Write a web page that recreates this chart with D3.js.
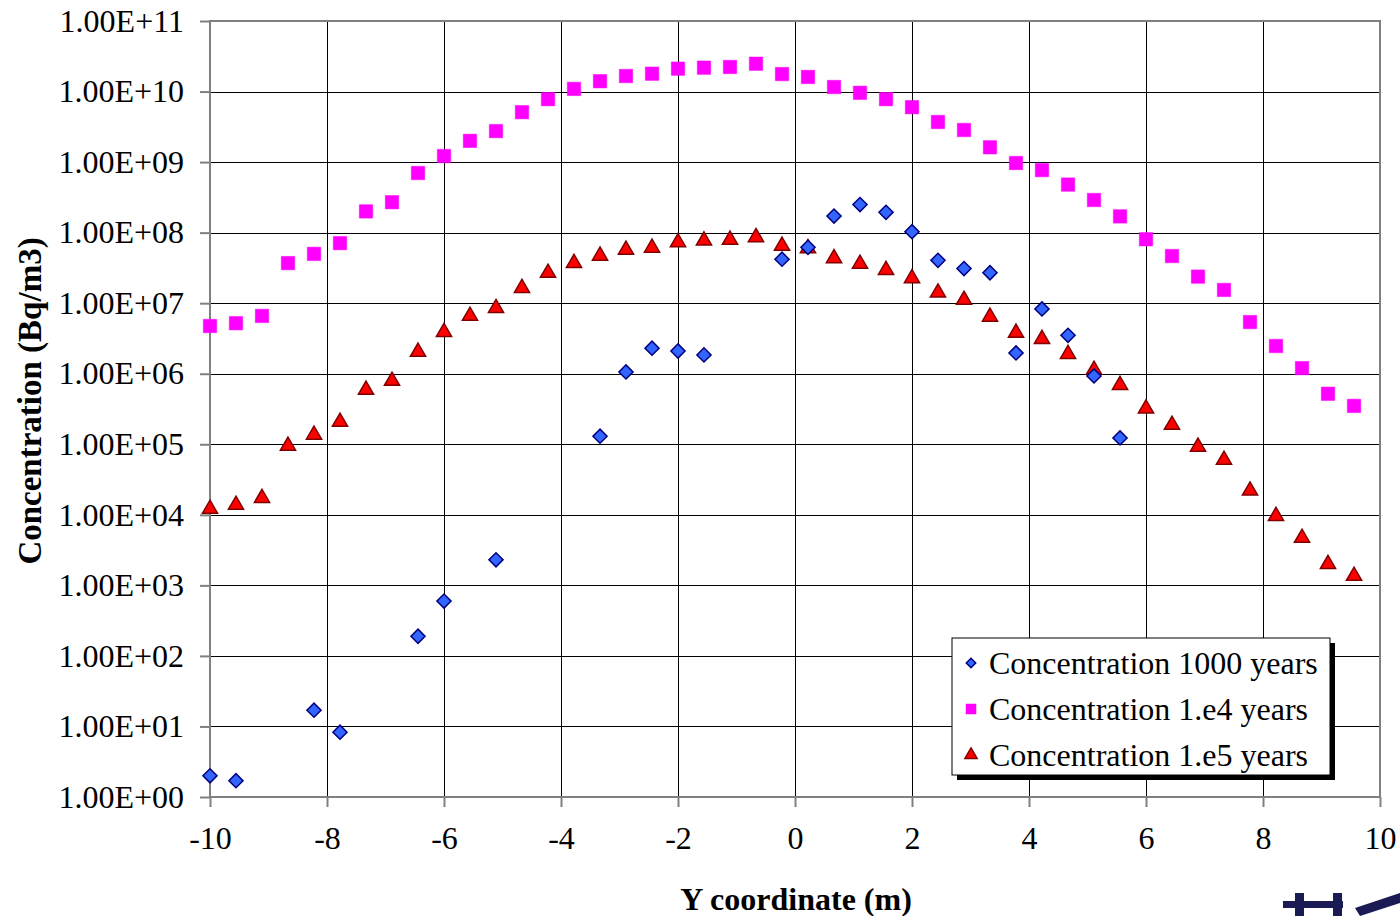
<!DOCTYPE html>
<html>
<head>
<meta charset="utf-8">
<script src="https://cdn.jsdelivr.net/npm/d3@7"></script>
<style>
  html, body { margin: 0; padding: 0; background: #fff; }
  svg { display: block; font-family: "Liberation Serif", "Times New Roman", serif; }
</style>
</head>
<body>
<svg id="chart" width="1400" height="916"></svg>
<script>
// ---------------- DATA ----------------
const yCoord = [-10, -9.556, -9.111, -8.667, -8.222, -7.778, -7.333, -6.889, -6.444, -6,
  -5.556, -5.111, -4.667, -4.222, -3.778, -3.333, -2.889, -2.444, -2, -1.556,
  -1.111, -0.667, -0.222, 0.222, 0.667, 1.111, 1.556, 2, 2.444, 2.889,
  3.333, 3.778, 4.222, 4.667, 5.111, 5.556, 6, 6.444, 6.889, 7.333,
  7.778, 8.222, 8.667, 9.111, 9.556];

const conc1000 = [2.0, 1.7, null, null, 17, 8.3, null, null, 190, 600,
  null, 2.3e3, null, null, null, 1.3e5, 1.06e6, 2.3e6, 2.1e6, 1.85e6,
  null, null, 4.2e7, 6.2e7, 1.72e8, 2.5e8, 1.94e8, 1.03e8, 4.05e7, 3.1e7,
  2.7e7, 1.97e6, 8.3e6, 3.5e6, 9.3e5, 1.23e5, null, null, null, null,
  null, null, null, null, null];

const conc1e4 = [4.75e6, 5.2e6, 6.6e6, 3.7e7, 5.0e7, 7.1e7, 2.0e8, 2.7e8, 7.0e8, 1.22e9,
  2.0e9, 2.75e9, 5.1e9, 7.8e9, 1.09e10, 1.4e10, 1.66e10, 1.79e10, 2.11e10, 2.18e10,
  2.23e10, 2.48e10, 1.77e10, 1.61e10, 1.16e10, 9.6e9, 7.8e9, 6.0e9, 3.7e9, 2.85e9,
  1.62e9, 9.7e8, 7.7e8, 4.8e8, 2.9e8, 1.7e8, 8.05e7, 4.66e7, 2.38e7, 1.54e7,
  5.4e6, 2.47e6, 1.2e6, 5.2e5, 3.5e5];

const conc1e5 = [1.21e4, 1.38e4, 1.73e4, 9.5e4, 1.36e5, 2.07e5, 5.9e5, 7.9e5, 2.04e6, 3.9e6,
  6.6e6, 8.5e6, 1.64e7, 2.68e7, 3.7e7, 4.7e7, 5.7e7, 6.1e7, 7.3e7, 7.7e7,
  7.9e7, 8.6e7, 6.5e7, 6.0e7, 4.33e7, 3.6e7, 2.95e7, 2.25e7, 1.41e7, 1.11e7,
  6.4e6, 3.8e6, 3.1e6, 1.9e6, 1.13e6, 6.9e5, 3.2e5, 1.88e5, 9.2e4, 6.0e4,
  2.2e4, 9.6e3, 4.7e3, 2.0e3, 1.36e3];

const seriesNames = ["Concentration 1000 years", "Concentration 1.e4 years", "Concentration 1.e5 years"];

const xTickValues = [-10, -8, -6, -4, -2, 0, 2, 4, 6, 8, 10];
const xTickLabels = ["-10", "-8", "-6", "-4", "-2", "0", "2", "4", "6", "8", "10"];
const yTickValues = [1e0, 1e1, 1e2, 1e3, 1e4, 1e5, 1e6, 1e7, 1e8, 1e9, 1e10, 1e11];
const yTickLabels = ["1.00E+00", "1.00E+01", "1.00E+02", "1.00E+03", "1.00E+04", "1.00E+05",
  "1.00E+06", "1.00E+07", "1.00E+08", "1.00E+09", "1.00E+10", "1.00E+11"];

const xTitle = "Y coordinate (m)";
const yTitle = "Concentration (Bq/m3)";

// ---------------- LAYOUT ----------------
const svg = d3.select("#chart");
const L = 210, R = 1380, T = 21, B = 797;
const FS = 32;

const x = d3.scaleLinear().domain([-10, 10]).range([L, R]);
const y = d3.scaleLog().domain([1, 1e11]).range([B, T]);

// gridlines
const grid = svg.append("g");
grid.selectAll("line.h").data(yTickValues).join("line")
  .attr("x1", L).attr("x2", R)
  .attr("y1", d => Math.round(y(d)) + 0.5).attr("y2", d => Math.round(y(d)) + 0.5)
  .attr("stroke", "#000").attr("stroke-width", 1);
grid.selectAll("line.v").data(xTickValues).join("line")
  .attr("y1", T).attr("y2", B)
  .attr("x1", d => Math.round(x(d)) + 0.5).attr("x2", d => Math.round(x(d)) + 0.5)
  .attr("stroke", "#000").attr("stroke-width", 1);

// plot border
svg.append("rect").attr("x", L).attr("y", T).attr("width", R - L).attr("height", B - T)
  .attr("fill", "none").attr("stroke", "#808080").attr("stroke-width", 2);

// axes
const yAxis = d3.axisLeft(y).tickValues(yTickValues)
  .tickFormat((d, i) => yTickLabels[i]).tickSize(10).tickPadding(16);
const gy = svg.append("g").attr("transform", `translate(${L},0)`).call(yAxis);
const xAxis = d3.axisBottom(x).tickValues(xTickValues)
  .tickFormat((d, i) => xTickLabels[i]).tickSize(10).tickPadding(19);
const gx = svg.append("g").attr("transform", `translate(0,${B})`).call(xAxis);
[gx, gy].forEach(g => {
  g.select(".domain").remove();
  g.selectAll(".tick line").attr("stroke", "#808080").attr("stroke-width", 2);
  g.selectAll(".tick text").attr("fill", "#000").attr("font-size", FS)
    .attr("font-family", "'Liberation Serif', 'Times New Roman', serif");
});

// axis titles
svg.append("text").attr("x", 796).attr("y", 910).attr("text-anchor", "middle")
  .attr("font-size", FS).attr("font-weight", "bold").text(xTitle);
svg.append("text").attr("transform", "translate(41,401) rotate(-90)")
  .attr("text-anchor", "middle").attr("font-size", 33).attr("font-weight", "bold").text(yTitle);

// marker generators
const diamondPath = d3.symbol(d3.symbolSquare).size(100)();
const squarePath = d3.symbol(d3.symbolSquare).size(180)();
const trianglePath = d3.symbol(d3.symbolTriangle).size(100)();

const styles = [
  { data: conc1000, path: diamondPath, rot: 45, fill: "#3366FF", stroke: "#000080", sw: 1.5 },
  { data: conc1e4, path: squarePath, rot: 0, fill: "#FF00FF", stroke: "#FF00FF", sw: 0.5 },
  { data: conc1e5, path: trianglePath, rot: 0, fill: "#FF0000", stroke: "#800000", sw: 1.5 }
];

// draw order: 1e4, 1e5, 1000 on top
[1, 2, 0].forEach(si => {
  const s = styles[si];
  const pts = yCoord.map((xv, i) => ({ xv, v: s.data[i] })).filter(d => d.v != null);
  svg.append("g").selectAll("path").data(pts).join("path")
    .attr("d", s.path)
    .attr("transform", d => `translate(${x(d.xv)},${y(d.v)}) rotate(${s.rot})`)
    .attr("fill", s.fill).attr("stroke", s.stroke).attr("stroke-width", s.sw)
    .attr("stroke-linejoin", "miter");
});

// legend
const lg = svg.append("g");
const lx = 952, ly = 638, lw = 378, lh = 137;
lg.append("rect").attr("x", lx + 5).attr("y", ly + 5).attr("width", lw).attr("height", lh).attr("fill", "#000");
lg.append("rect").attr("x", lx).attr("y", ly).attr("width", lw).attr("height", lh)
  .attr("fill", "#fff").attr("stroke", "#000").attr("stroke-width", 1);
const legendMarkers = [
  d3.symbol(d3.symbolSquare).size(45)(),
  d3.symbol(d3.symbolSquare).size(100)(),
  d3.symbol(d3.symbolTriangle).size(65)()
];
seriesNames.forEach((name, i) => {
  const cy = ly + 25 + i * 46;
  const s = styles[i];
  lg.append("path").attr("d", legendMarkers[i])
    .attr("transform", `translate(971,${cy}) rotate(${s.rot})`)
    .attr("fill", s.fill).attr("stroke", s.stroke).attr("stroke-width", s.sw);
  lg.append("text").attr("x", 989).attr("y", cy + 11).attr("font-size", FS).text(name);
});

// partial logo at the bottom right corner (cropped in the original)
const logo = svg.append("g").attr("fill", "#1a1a55");
logo.append("rect").attr("x", 1283).attr("y", 901).attr("width", 60).attr("height", 7);
logo.append("rect").attr("x", 1295).attr("y", 893).attr("width", 9).attr("height", 23);
logo.append("rect").attr("x", 1333).attr("y", 893).attr("width", 9).attr("height", 23);
logo.append("path").attr("d", "M1355,908 L1400,893 L1400,903 L1360,916 Z");
</script>
</body>
</html>
